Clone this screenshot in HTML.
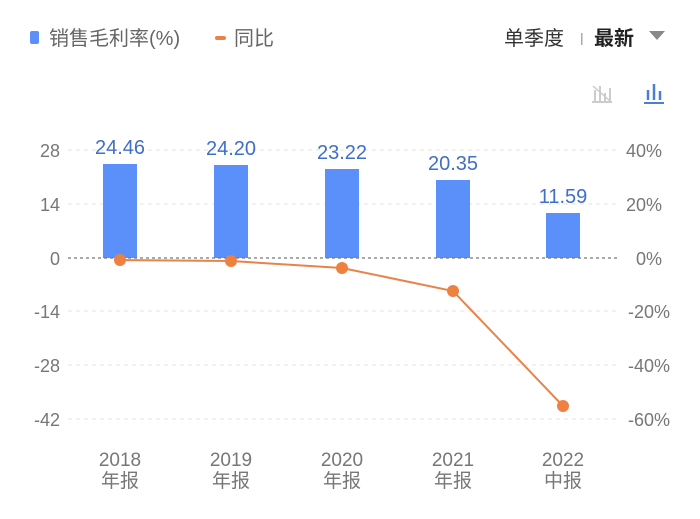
<!DOCTYPE html>
<html><head><meta charset="utf-8"><style>
body{margin:0;width:700px;height:514px;background:#fff;overflow:hidden;font-family:"Liberation Sans","Noto Sans CJK SC",sans-serif;}
</style></head><body>
<svg width="700" height="514" xmlns="http://www.w3.org/2000/svg" style="font-family:'Liberation Sans','Noto Sans CJK SC',sans-serif">
<rect x="30" y="31" width="9" height="13" rx="2" fill="#5b8ff9"/>
<text x="49" y="45" font-size="20" fill="#666">销售毛利率(%)</text>
<rect x="215" y="36" width="11" height="4" rx="2" fill="#e8834a"/>
<text x="234" y="45" font-size="20" fill="#666">同比</text>
<text x="504" y="45" font-size="20" fill="#333">单季度</text>
<rect x="581" y="33" width="1.5" height="12" fill="#aaa"/>
<text x="594" y="45" font-size="20" font-weight="bold" fill="#222">最新</text>
<polygon points="649,31 665,31 657,40" fill="#888"/>
<g stroke="#ccc" stroke-width="2"><line x1="595" y1="90" x2="595" y2="101"/><line x1="600" y1="86" x2="600" y2="101"/><line x1="605" y1="93" x2="605" y2="101"/><line x1="610" y1="88" x2="610" y2="101"/><line x1="593" y1="86" x2="610" y2="101" stroke-width="1.5"/><line x1="592" y1="102" x2="612" y2="102"/></g>
<g stroke="#4a7fd8" stroke-width="2.5"><line x1="648" y1="90" x2="648" y2="100"/><line x1="654" y1="84" x2="654" y2="100"/><line x1="660" y1="91" x2="660" y2="100"/><line x1="644" y1="103" x2="664" y2="103" stroke-width="2"/></g>
<g stroke="#e3e3e3" stroke-dasharray="4,4" stroke-width="1">
<line x1="68" y1="150" x2="620" y2="150"/><line x1="68" y1="204" x2="620" y2="204"/>
<line x1="68" y1="311" x2="620" y2="311"/><line x1="68" y1="365" x2="620" y2="365"/><line x1="68" y1="419" x2="620" y2="419"/>
</g>
<g font-size="18" fill="#777" text-anchor="end">
<text x="60" y="157">28</text><text x="60" y="211">14</text><text x="60" y="265">0</text>
<text x="60" y="318">-14</text><text x="60" y="372">-28</text><text x="60" y="426">-42</text></g>
<g font-size="18" fill="#777" text-anchor="end">
<text x="662" y="157">40%</text><text x="662" y="211">20%</text><text x="662" y="265">0%</text>
<text x="670" y="318">-20%</text><text x="670" y="372">-40%</text><text x="670" y="426">-60%</text></g>
<g fill="#5b8ff9">
<rect x="103" y="164" width="34" height="94"/><rect x="214" y="165" width="34" height="93"/>
<rect x="325" y="169" width="34" height="89"/><rect x="436" y="180" width="34" height="78"/>
<rect x="546" y="213" width="34" height="45"/></g>
<g font-size="20" fill="#3f6fc8" text-anchor="middle">
<text x="120" y="154">24.46</text><text x="231" y="155">24.20</text><text x="342" y="159">23.22</text>
<text x="453" y="170">20.35</text><text x="563" y="203">11.59</text></g>
<line x1="68" y1="258" x2="620" y2="258" stroke="#777" stroke-dasharray="3,3" stroke-width="1.2"/>
<polyline points="120,260 231,261 342,268 453,291 563,406" fill="none" stroke="#e8834a" stroke-width="2"/>
<g fill="#ee8040"><circle cx="120" cy="260" r="6"/><circle cx="231" cy="261" r="6"/><circle cx="342" cy="268" r="6"/><circle cx="453" cy="291" r="6"/><circle cx="563" cy="406" r="6"/></g>
<g font-size="19" fill="#777" text-anchor="middle">
<text x="120" y="466">2018</text><text x="120" y="487">年报</text>
<text x="231" y="466">2019</text><text x="231" y="487">年报</text>
<text x="342" y="466">2020</text><text x="342" y="487">年报</text>
<text x="453" y="466">2021</text><text x="453" y="487">年报</text>
<text x="563" y="466">2022</text><text x="563" y="487">中报</text></g>
</svg>
</body></html>
